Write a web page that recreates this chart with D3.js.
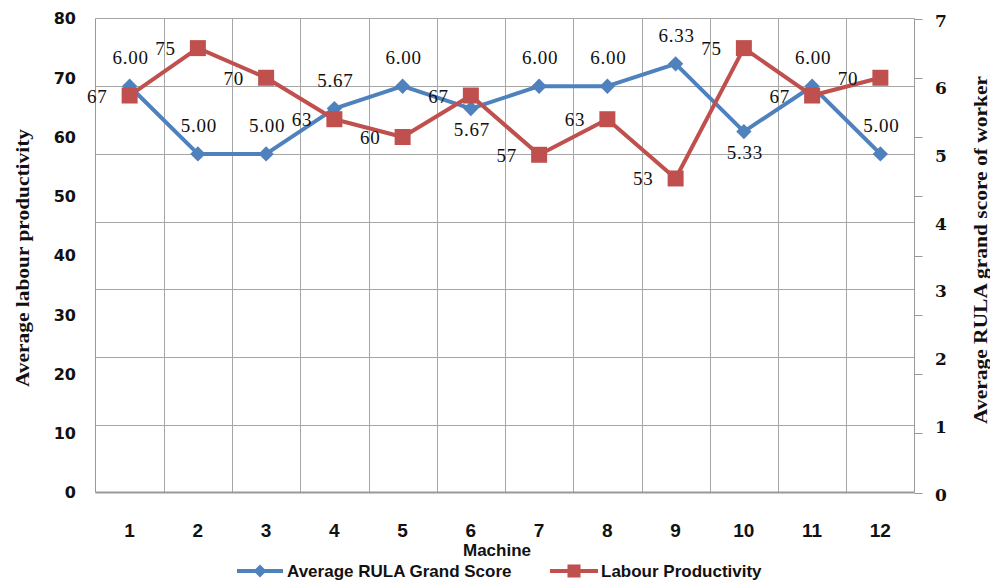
<!DOCTYPE html>
<html>
<head>
<meta charset="utf-8">
<script src="https://cdn.jsdelivr.net/npm/d3@7"></script>
<style>
  html, body { margin: 0; padding: 0; background: #ffffff; }
  svg { display: block; }
</style>
</head>
<body>
<div id="chart"></div>
<script>
// ---- data ----
const machines = ["1","2","3","4","5","6","7","8","9","10","11","12"];
const rulaScores = [6.00, 5.00, 5.00, 5.67, 6.00, 5.67, 6.00, 6.00, 6.33, 5.33, 6.00, 5.00];
const labourProductivity = [67, 75, 70, 63, 60, 67, 57, 63, 53, 75, 67, 70];
const rulaLabelSide = ["above","above","above","above","above","below","above","above","above","below","above","above"];
const leftTicks = [0, 10, 20, 30, 40, 50, 60, 70, 80];
const rightTicks = [0, 1, 2, 3, 4, 5, 6, 7];
const seriesNames = ["Average RULA Grand Score", "Labour Productivity"];
const xTitle = "Machine";
const leftTitle = "Average labour productivity";
const rightTitle = "Average RULA grand score of worker";

// ---- layout ----
const W = 990, H = 582;
const plot = { left: 95.5, right: 914.5, top: 18.5, bottom: 492.5 };
const blue = "#4F81BD", red = "#C0504D", grid = "#a6a6a6";

const svg = d3.select("#chart").append("svg").attr("width", W).attr("height", H);

const x = d3.scaleBand().domain(machines).range([plot.left, plot.right]).paddingInner(0).paddingOuter(0);
const yL = d3.scaleLinear().domain([0, 80]).range([plot.bottom, plot.top]);
const yR = d3.scaleLinear().domain([0, 7]).range([plot.bottom, plot.top]);
const cx = d => x(d) + x.bandwidth() / 2;

// grid: horizontal at right-axis ticks
svg.append("g").selectAll("line").data(rightTicks.filter(t => t > 0 && t < 7)).join("line")
  .attr("x1", plot.left).attr("x2", plot.right)
  .attr("y1", d => Math.round(yR(d)) + 0.5).attr("y2", d => Math.round(yR(d)) + 0.5)
  .attr("stroke", grid).attr("stroke-width", 1);
// vertical grid at band boundaries
svg.append("g").selectAll("line").data(machines.slice(1)).join("line")
  .attr("x1", d => Math.round(x(d)) + 0.5).attr("x2", d => Math.round(x(d)) + 0.5)
  .attr("y1", plot.top).attr("y2", plot.bottom)
  .attr("stroke", grid).attr("stroke-width", 1);
// plot border
svg.append("line").attr("x1", plot.left).attr("x2", plot.right).attr("y1", plot.top).attr("y2", plot.top).attr("stroke", grid);
svg.append("line").attr("x1", plot.left).attr("x2", plot.left).attr("y1", plot.top).attr("y2", plot.bottom).attr("stroke", "#999");
svg.append("line").attr("x1", plot.right).attr("x2", plot.right).attr("y1", plot.top).attr("y2", plot.bottom).attr("stroke", "#999");
svg.append("line").attr("x1", plot.left).attr("x2", plot.right).attr("y1", plot.bottom).attr("y2", plot.bottom).attr("stroke", "#999").attr("stroke-width", 2);

// right-axis tick marks
svg.append("g").selectAll("line").data(leftTicks).join("line")
  .attr("x1", plot.right).attr("x2", plot.right + 8)
  .attr("y1", d => Math.round(yL(d)) + 0.5).attr("y2", d => Math.round(yL(d)) + 0.5)
  .attr("stroke", "#999");

// left axis labels
svg.append("g").selectAll("text").data(leftTicks).join("text")
  .attr("x", 76).attr("y", d => yL(d)).attr("dy", "0.36em")
  .attr("text-anchor", "end")
  .attr("font-family", "DejaVu Sans").attr("font-weight", "bold").attr("font-size", 16)
  .attr("fill", "#111").text(d => d);

// right axis labels
svg.append("g").selectAll("text").data(rightTicks).join("text")
  .attr("x", 935).attr("y", d => yR(d) + 2).attr("dy", "0.36em")
  .attr("text-anchor", "start")
  .attr("font-family", "DejaVu Serif").attr("font-weight", "bold").attr("font-size", 17)
  .attr("fill", "#111").text(d => d);

// x axis labels
svg.append("g").selectAll("text").data(machines).join("text")
  .attr("x", d => cx(d)).attr("y", 537)
  .attr("text-anchor", "middle")
  .attr("font-family", "Liberation Sans").attr("font-weight", "bold").attr("font-size", 19)
  .attr("fill", "#111").text(d => d);

// x title
svg.append("text").attr("x", 497).attr("y", 556).attr("text-anchor", "middle")
  .attr("font-family", "Liberation Sans").attr("font-weight", "bold").attr("font-size", 17)
  .attr("fill", "#111").text(xTitle);

// y titles
svg.append("text").attr("transform", "translate(22,258) rotate(-90)")
  .attr("text-anchor", "middle").attr("dy", "0.35em")
  .attr("font-family", "Liberation Serif").attr("font-weight", "bold").attr("font-size", 19)
  .attr("textLength", 258).attr("lengthAdjust", "spacingAndGlyphs")
  .attr("fill", "#111").text(leftTitle);
svg.append("text").attr("transform", "translate(980,250) rotate(-90)")
  .attr("text-anchor", "middle").attr("dy", "0.35em")
  .attr("font-family", "Liberation Serif").attr("font-weight", "bold").attr("font-size", 19)
  .attr("textLength", 348).attr("lengthAdjust", "spacingAndGlyphs")
  .attr("fill", "#111").text(rightTitle);

// lines
const rulaData = machines.map((m, i) => ({ m, v: rulaScores[i], side: rulaLabelSide[i] }));
const labData = machines.map((m, i) => ({ m, v: labourProductivity[i] }));

svg.append("path").datum(rulaData)
  .attr("d", d3.line().x(d => cx(d.m)).y(d => yR(d.v)))
  .attr("fill", "none").attr("stroke", blue).attr("stroke-width", 4).attr("stroke-linejoin", "round");
svg.append("path").datum(labData)
  .attr("d", d3.line().x(d => cx(d.m)).y(d => yL(d.v)))
  .attr("fill", "none").attr("stroke", red).attr("stroke-width", 4).attr("stroke-linejoin", "round");

const diamond = d3.symbol().type(d3.symbolDiamond2).size(150);
const square = d3.symbol().type(d3.symbolSquare).size(256);

svg.append("g").selectAll("path").data(rulaData).join("path")
  .attr("transform", d => `translate(${cx(d.m)},${yR(d.v)})`)
  .attr("d", diamond()).attr("fill", blue);
svg.append("g").selectAll("path").data(labData).join("path")
  .attr("transform", d => `translate(${cx(d.m)},${yL(d.v)})`)
  .attr("d", square()).attr("fill", red);

// data labels
svg.append("g").selectAll("text").data(rulaData).join("text")
  .attr("x", d => cx(d.m) + 1)
  .attr("y", d => d.side === "above" ? yR(d.v) - 22 : yR(d.v) + 27)
  .attr("text-anchor", "middle")
  .attr("font-family", "Liberation Serif").attr("font-size", 19).attr("letter-spacing", 0.8)
  .attr("fill", "#111").text(d => d.v.toFixed(2));
svg.append("g").selectAll("text").data(labData).join("text")
  .attr("x", d => cx(d.m) - 22)
  .attr("y", d => yL(d.v) + 7)
  .attr("text-anchor", "end")
  .attr("font-family", "Liberation Serif").attr("font-size", 19).attr("letter-spacing", 0.8)
  .attr("fill", "#111").text(d => d.v);

// legend
const legY = 571;
const lg = svg.append("g");
lg.append("line").attr("x1", 237).attr("x2", 283).attr("y1", legY).attr("y2", legY).attr("stroke", blue).attr("stroke-width", 4);
lg.append("path").attr("transform", `translate(260,${legY})`).attr("d", d3.symbol().type(d3.symbolDiamond2).size(110)()).attr("fill", blue);
lg.append("text").attr("x", 287).attr("y", legY).attr("dy", "0.36em")
  .attr("font-family", "Liberation Sans").attr("font-weight", "bold").attr("font-size", 17)
  .attr("fill", "#111").text(seriesNames[0]);
lg.append("line").attr("x1", 550).attr("x2", 598).attr("y1", legY).attr("y2", legY).attr("stroke", red).attr("stroke-width", 4);
lg.append("path").attr("transform", `translate(574,${legY})`).attr("d", d3.symbol().type(d3.symbolSquare).size(170)()).attr("fill", red);
lg.append("text").attr("x", 601).attr("y", legY).attr("dy", "0.36em")
  .attr("font-family", "Liberation Sans").attr("font-weight", "bold").attr("font-size", 17)
  .attr("fill", "#111").text(seriesNames[1]);
</script>
</body>
</html>
